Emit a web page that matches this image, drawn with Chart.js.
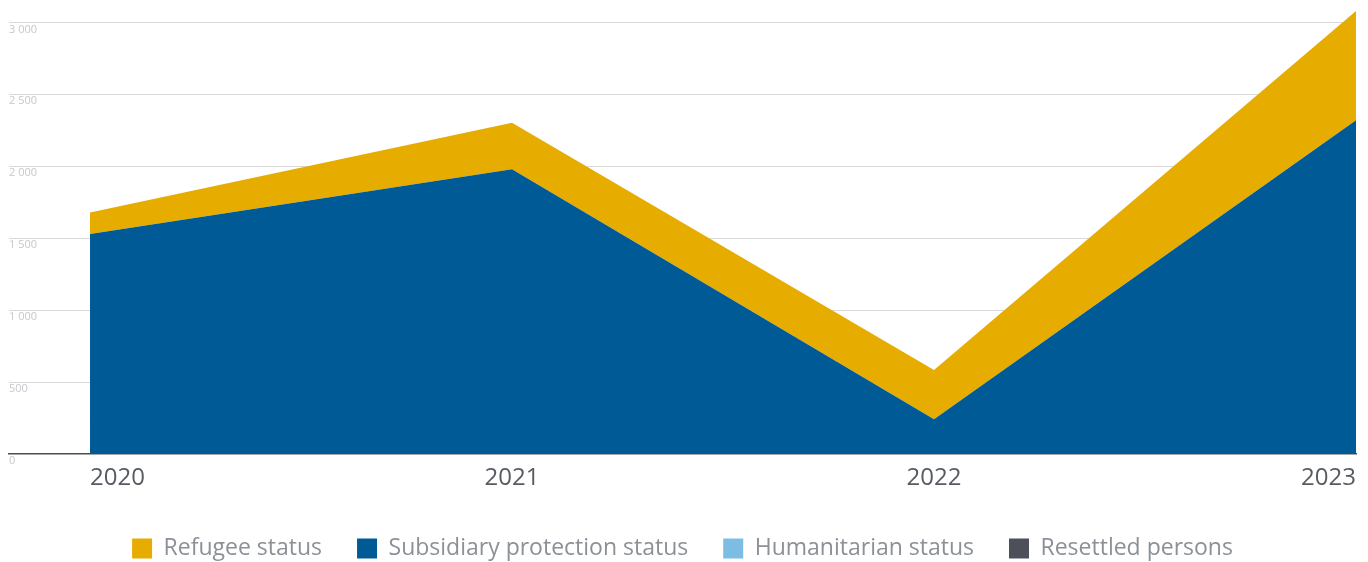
<!DOCTYPE html>
<html>
<head>
<meta charset="utf-8">
<script src="https://cdn.jsdelivr.net/npm/chart.js@4/dist/chart.umd.min.js"></script>
<style>
  html, body { margin: 0; padding: 0; background: #fff; }
  #wrap { width: 1368px; height: 562px; }
</style>
</head>
<body>
<div id="wrap"><canvas id="statusChart"></canvas></div>
<script>
var anos = [2020, 2021, 2022, 2023];
var refugee = [148, 324, 342, 760];
var subsidiary = [1530, 1979, 241, 2320];
var humanitarian = [0, 0, 0, 0];
var resettled = [0, 0, 0, 0];
var yTicks = [0, 500, 1000, 1500, 2000, 2500, 3000];
var legendOrder = ['Refugee status', 'Subsidiary protection status', 'Humanitarian status', 'Resettled persons'];

var fonte = "'Open Sans', 'Noto Sans', sans-serif";

function milhar(value) {
    return String(value).replace(/\B(?=(\d{3})+(?!\d))/g, ' ');
}

var ctx = document.getElementById('statusChart').getContext('2d');

var statusData = {
    labels: anos,
    datasets: [{
        label: 'Subsidiary protection status',
        data: subsidiary,
        backgroundColor: '#005a96',
        borderWidth: 0,
        pointRadius: 0,
        fill: 'origin'
    }, {
        label: 'Refugee status',
        data: refugee,
        backgroundColor: '#e6ad00',
        borderWidth: 0,
        pointRadius: 0,
        fill: '-1'
    }, {
        label: 'Humanitarian status',
        data: humanitarian,
        backgroundColor: '#7dbde3',
        borderWidth: 0,
        pointRadius: 0,
        showLine: false,
        fill: false
    }, {
        label: 'Resettled persons',
        data: resettled,
        backgroundColor: '#4c5058',
        borderWidth: 0,
        pointRadius: 0,
        showLine: false,
        fill: false
    }]
};

var statusOptions = {
    responsive: true,
    maintainAspectRatio: false,
    animation: false,
    layout: {
        padding: { top: 8, left: 9, right: 12, bottom: -8 }
    },
    scales: {
        x: {
            type: 'linear',
            min: 2019.808,
            max: 2023,
            z: 1,
            grid: { display: false, drawTicks: false },
            border: { display: true, color: '#4d4f53', width: 1.5 },
            afterBuildTicks: function(axis) {
                axis.ticks = anos.map(function(a) { return { value: a }; });
            },
            ticks: {
                align: 'inner',
                padding: 9.6,
                maxRotation: 0,
                autoSkip: false,
                color: '#575c62',
                font: { family: fonte, size: 24 },
                callback: function(value) {
                    return String(value);
                }
            }
        },
        y: {
            stacked: true,
            min: 0,
            max: 3100,
            z: 1,
            border: { display: false },
            grid: {
                drawTicks: false,
                color: function(context) {
                    return context.tick && context.tick.value === 0 ? 'rgba(0,0,0,0)' : 'rgba(0,0,0,0.15)';
                }
            },
            afterBuildTicks: function(axis) {
                axis.ticks = yTicks.map(function(v) { return { value: v }; });
            },
            ticks: {
                mirror: true,
                padding: 0,
                labelOffset: 7,
                color: '#c4c8cc',
                font: { family: fonte, size: 11 },
                callback: function(value) {
                    return milhar(value);
                }
            }
        }
    },
    plugins: {
        tooltip: { enabled: false },
        legend: {
            position: 'bottom',
            labels: {
                boxWidth: 20,
                boxHeight: 20,
                padding: 35,
                color: '#8b9197',
                font: { family: fonte, size: 23 },
                sort: function(a, b) {
                    return legendOrder.indexOf(a.text) - legendOrder.indexOf(b.text);
                }
            }
        }
    }
};

var statusChart = new Chart(ctx, {
    type: 'line',
    data: statusData,
    options: statusOptions
});
</script>
</body>
</html>
